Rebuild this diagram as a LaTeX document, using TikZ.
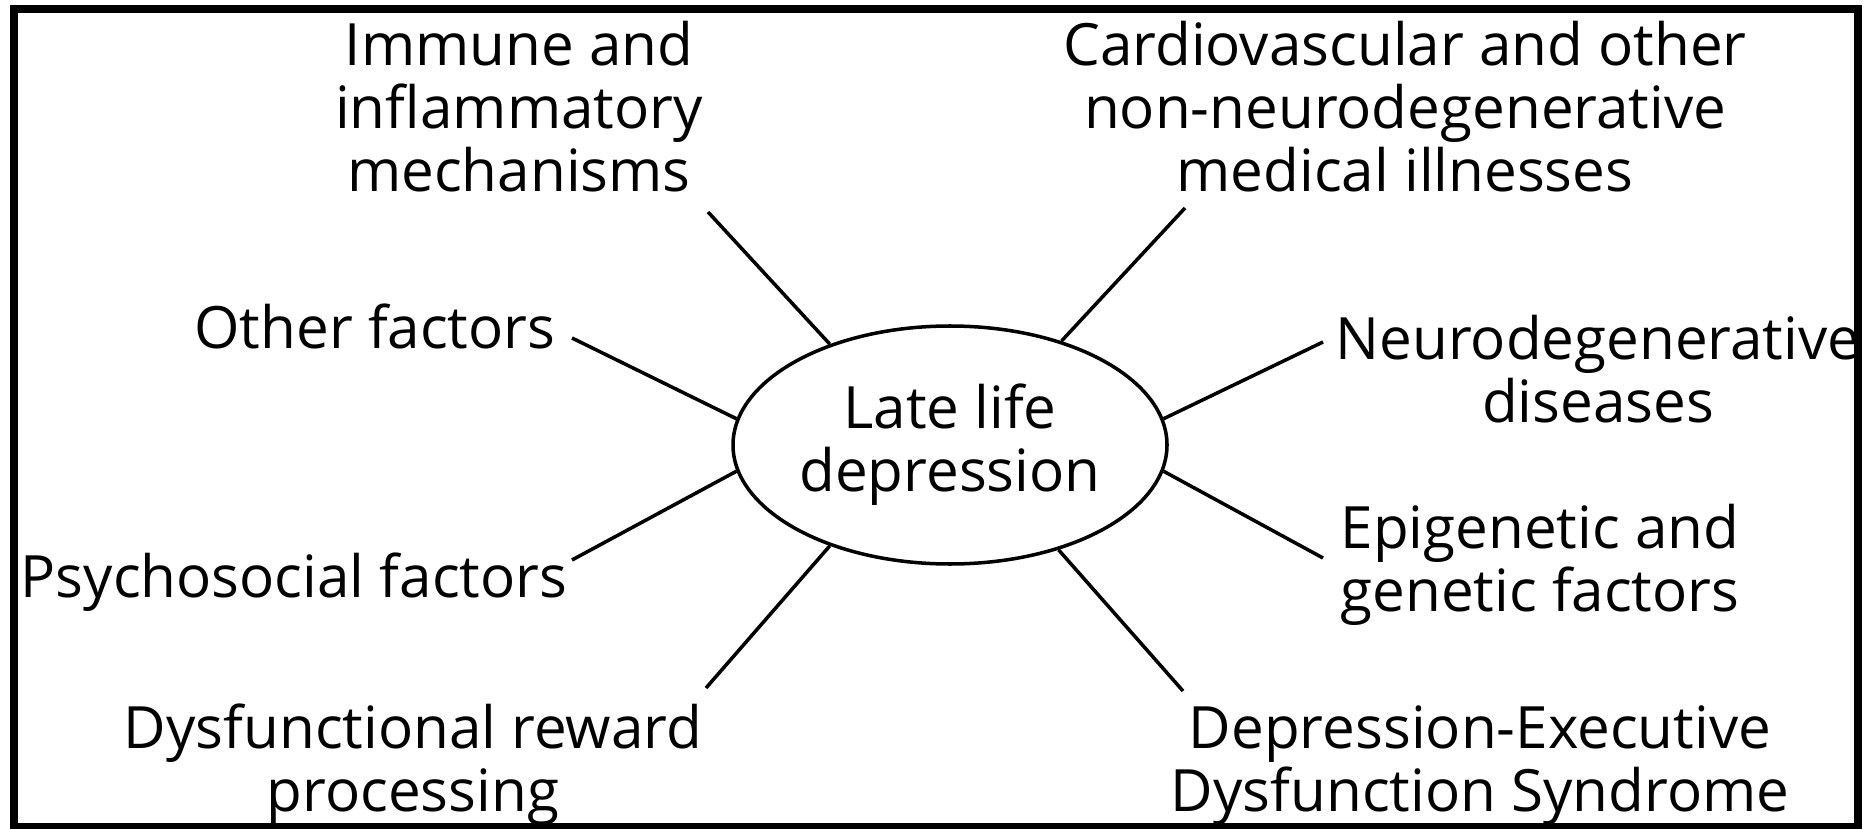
\documentclass[tikz,border=0pt]{standalone}
\usepackage{fontspec}
\setmainfont{Open Sans}
\usetikzlibrary{shapes.geometric,positioning}

\begin{document}
\begin{tikzpicture}[font=\fontsize{16.6}{17.9}\selectfont, line width=1pt,
    factor/.style={align=center, inner sep=2pt},
    hub/.style={draw, ellipse, align=center, inner sep=0pt,
                minimum width=4.34cm, minimum height=2.38cm}]
\useasboundingbox (0,0) rectangle (18.65,8.28);

% ---- Frame ----
\draw[line width=0.08cm] (0.14,0.01) rectangle (18.58,8.19);

% ---- Centre ----
\node[hub] (lld) at (9.50,3.83) {Late life\\depression};

% ---- Factors, left column ----
\node[factor] (immune) at (5.19,7.21) {Immune and\\inflammatory\\mechanisms};
\node[factor] (other)  at (3.75,5.02) {Other factors};
\node[factor] (psycho) at (2.94,2.46) {Psychosocial factors};
\node[factor] (reward) at (4.13,0.63) {Dysfunctional reward\\processing};

% ---- Factors, right column ----
\node[factor] (cardio) at (14.05,7.21) {Cardiovascular and other\\non-neurodegenerative\\medical illnesses};
\node[factor] (neuro)  at (15.98,4.59) {Neurodegenerative\\diseases};
\node[factor] (epi)    at (15.40,2.63) {Epigenetic and\\genetic factors};
\node[factor] (dedys)  at (14.80,0.62) {Depression-Executive\\Dysfunction Syndrome};

% Free ends of the spokes, next to each label
\coordinate (immune-end) at (7.08,6.16);
\coordinate (other-end)  at (5.72,4.90);
\coordinate (psycho-end) at (5.72,2.68);
\coordinate (reward-end) at (7.06,1.40);
\coordinate (cardio-end) at (11.85,6.20);
\coordinate (neuro-end)  at (13.23,4.86);
\coordinate (epi-end)    at (13.23,2.70);
\coordinate (dedys-end)  at (11.83,1.37);

% ---- Spokes ----
\draw (lld.140) -- (immune-end);
\draw (lld.173) -- (other-end);
\draw (lld.187) -- (psycho-end);
\draw (lld.220) -- (reward-end);
\draw (lld.43)  -- (cardio-end);
\draw (lld.7)   -- (neuro-end);
\draw (lld.-7)  -- (epi-end);
\draw (lld.-44) -- (dedys-end);

\end{tikzpicture}
\end{document}
